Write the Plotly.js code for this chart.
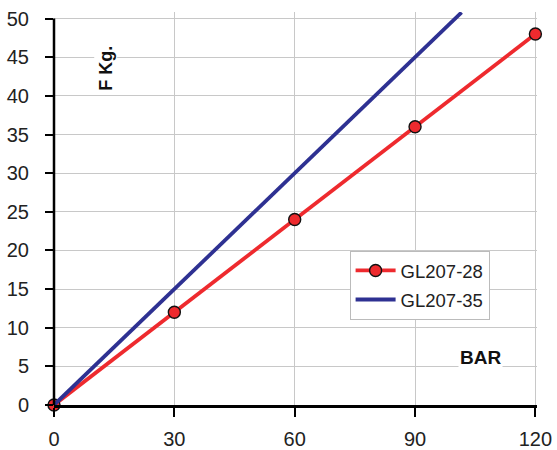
<!DOCTYPE html>
<html><head><meta charset="utf-8">
<script src="https://cdn.plot.ly/plotly-3.0.1.min.js"></script>
<style>body{margin:0;background:#fff}#c{width:557px;height:450px}</style>
</head><body><div id="c"></div>
<script>
const pressureBar = [0, 30, 60, 90, 120];
const forceGL20728 = [0, 12, 24, 36, 48];
const pressureBar35 = [0, 30, 60, 90, 101.6];
const forceGL20735 = [0, 15, 30, 45, 50.8];
const xTicks = [0, 30, 60, 90, 120];
const yTicks = [0, 5, 10, 15, 20, 25, 30, 35, 40, 45, 50];

const traces = [
  {x: pressureBar, y: forceGL20728, name: 'GL207-28', mode: 'lines+markers', type: 'scatter',
   legendgroup: 'a',
   line: {color: '#ee2a2e', width: 3.8},
   marker: {color: '#ee2a2e', size: 12, line: {color: '#111', width: 1.4}}, cliponaxis: false},
  {x: pressureBar35, y: forceGL20735, name: 'GL207-35', mode: 'lines', type: 'scatter',
   legendgroup: 'b',
   line: {color: '#2e3192', width: 3.8}}
];

const layout = {
  width: 557, height: 450,
  margin: {l: 54, r: 20, t: 12, b: 45},
  paper_bgcolor: '#fff', plot_bgcolor: '#fff',
  font: {family: 'Liberation Sans, Arial, sans-serif', color: '#222', size: 20},
  xaxis: {range: [0, 120.4], tickvals: xTicks, ticktext: xTicks.map(String),
    showgrid: true, gridcolor: '#c8c8c8', gridwidth: 1,
    showline: true, linecolor: '#000', linewidth: 2.5,
    ticks: 'outside', ticklen: 9, tickwidth: 2, tickcolor: '#000',
    ticklabelstandoff: 5,
    zeroline: false, tickfont: {size: 20}, fixedrange: true},
  yaxis: {range: [0, 50.85], tickvals: yTicks, ticktext: yTicks.map(String),
    showgrid: true, gridcolor: '#c8c8c8', gridwidth: 1,
    showline: false, ticks: 'outside', ticklen: 8, tickwidth: 2, tickcolor: '#000',
    ticklabelstandoff: 12,
    zeroline: false, tickfont: {size: 20}, fixedrange: true},
  shapes: [{type: 'line', xref: 'paper', yref: 'y', x0: 0, x1: 0, y0: 0, y1: 50,
    line: {color: '#000', width: 2.5}}],
  legend: {x: 0.612, y: 0.392, xanchor: 'left', yanchor: 'top',
    bgcolor: '#fff', bordercolor: '#bbb', borderwidth: 1,
    font: {size: 18.5, color: '#222'}, tracegroupgap: 2, itemwidth: 40},
  annotations: [
    {text: '<b>F Kg.</b>', xref: 'x', yref: 'y', x: 12.9, y: 43.6, showarrow: false,
     textangle: -90, font: {size: 18, color: '#111'}, bgcolor: '#fff'},
    {text: '<b>BAR</b>', xref: 'x', yref: 'y', x: 106.2, y: 6.2, showarrow: false,
     font: {size: 19, color: '#111'}, bgcolor: '#fff'}
  ],
  showlegend: true
};
Plotly.newPlot('c', traces, layout, {displayModeBar: false, staticPlot: true});
</script></body></html>
